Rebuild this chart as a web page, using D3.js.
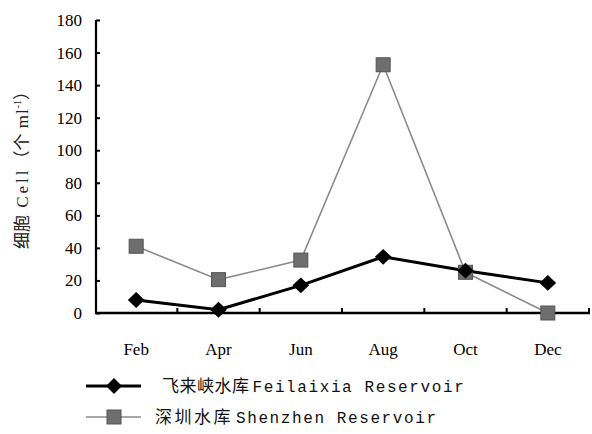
<!DOCTYPE html>
<html><head><meta charset="utf-8">
<script src="https://cdn.jsdelivr.net/npm/d3@7"></script>
<style>body{margin:0;background:#fff}</style>
</head><body>
<svg id="c" width="592" height="434"></svg>
<script>
const months = ["Feb","Apr","Jun","Aug","Oct","Dec"];
const feilaixia = [8, 2, 17, 34.5, 26, 18.5];
const shenzhen = [41, 20.5, 32.5, 152.5, 25, 0];
const yTicks = [0,20,40,60,80,100,120,140,160,180];
const seriesNames = [["飞来峡水库","Feilaixia Reservoir"],["深圳水库","Shenzhen Reservoir"]];

const svg = d3.select("#c");
const x = d3.scaleBand().domain(months).range([95, 589]);
const y = d3.scaleLinear().domain([0,180]).range([313, 20]);

// y axis
const ya = svg.append("g").attr("transform","translate(96,0)")
  .call(d3.axisRight(y).tickValues(yTicks).tickSize(4).tickFormat(""));
ya.select(".domain").attr("stroke","#000").attr("stroke-width",2.2).attr("d","M0,20V314");
ya.selectAll(".tick line").attr("stroke","#000").attr("stroke-width",2);
svg.append("g").selectAll("text").data(yTicks).join("text")
  .attr("x",82).attr("y",d=>y(d)+6).attr("text-anchor","end")
  .attr("font-family","Liberation Serif").attr("font-size",17).text(d=>d);

// x axis
const xa = svg.append("g").attr("transform","translate(0,313)");
xa.append("line").attr("x1",95).attr("x2",590).attr("y1",0).attr("y2",0)
  .attr("stroke","#000").attr("stroke-width",2.6);
xa.selectAll("line.t").data(months.slice(1)).join("line").attr("class","t")
  .attr("x1",d=>x(d)).attr("x2",d=>x(d)).attr("y1",0).attr("y2",-5)
  .attr("stroke","#000").attr("stroke-width",2);
xa.append("line").attr("x1",589).attr("x2",589).attr("y1",0).attr("y2",-5)
  .attr("stroke","#000").attr("stroke-width",2);
svg.append("g").selectAll("text").data(months).join("text")
  .attr("x",d=>x(d)+x.bandwidth()/2).attr("y",355).attr("text-anchor","middle")
  .attr("font-family","Liberation Serif").attr("font-size",17).text(d=>d);

// y label
svg.append("text").attr("transform","translate(28,166) rotate(-90)")
  .attr("text-anchor","middle").attr("font-size",17).attr("fill","#222")
  .html('<tspan font-family="Noto Sans CJK SC">细胞</tspan><tspan font-family="Liberation Serif" letter-spacing="3"> Cell</tspan><tspan font-family="Noto Sans CJK SC">（个</tspan><tspan font-family="Liberation Serif" letter-spacing="1"> ml</tspan><tspan font-family="Liberation Serif" font-size="10" dy="-7">-1</tspan><tspan font-family="Noto Sans CJK SC" dy="7">）</tspan>');

const cx = (d,i)=>x(months[i])+x.bandwidth()/2;
const line = d3.line().x(cx).y(d=>y(d));

// shenzhen
svg.append("path").datum(shenzhen).attr("d",line).attr("fill","none")
  .attr("stroke","#8a8a8a").attr("stroke-width",1.6);
// feilaixia
svg.append("path").datum(feilaixia).attr("d",line).attr("fill","none")
  .attr("stroke","#000").attr("stroke-width",3);

const sq = 14;
svg.append("g").selectAll("rect").data(shenzhen).join("rect")
  .attr("x",(d,i)=>cx(d,i)-sq/2).attr("y",d=>y(d)-sq/2).attr("width",sq).attr("height",sq)
  .attr("fill","#6e6e6e").attr("stroke","#555").attr("stroke-width",1);
const dia = d3.symbol().type(d3.symbolDiamond2).size(160);
svg.append("g").selectAll("path").data(feilaixia).join("path")
  .attr("d",dia).attr("transform",(d,i)=>`translate(${cx(d,i)},${y(d)}) scale(1.05,1)`)
  .attr("fill","#000");

// legend
const lg = svg.append("g");
lg.append("line").attr("x1",86).attr("x2",141).attr("y1",386).attr("y2",386).attr("stroke","#000").attr("stroke-width",3);
lg.append("path").attr("d",dia).attr("transform","translate(114,386)").attr("fill","#000");
lg.append("line").attr("x1",86).attr("x2",141).attr("y1",417).attr("y2",417).attr("stroke","#8a8a8a").attr("stroke-width",1.6);
lg.append("rect").attr("x",107).attr("y",410).attr("width",14).attr("height",14).attr("fill","#6e6e6e").attr("stroke","#555");
const rows = [[162,392,17.5],[155,423,19.5]];
seriesNames.forEach((s,i)=>{
  const t = lg.append("text").attr("x",rows[i][0]).attr("y",rows[i][1]).attr("font-size",17).attr("fill","#111");
  t.append("tspan").attr("font-family","Noto Sans CJK SC").attr("letter-spacing",rows[i][2]-17).text(s[0]);
  t.append("tspan").attr("font-family","Liberation Mono").attr("font-size",16).attr("letter-spacing",1.6).attr("dx",3).text(s[1]);
});
</script>
</body></html>
